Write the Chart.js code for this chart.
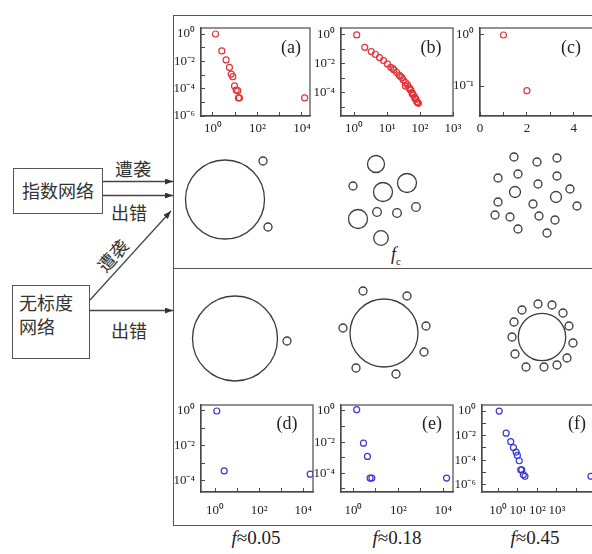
<!DOCTYPE html>
<html>
<head>
<meta charset="utf-8">
<script src="https://cdn.jsdelivr.net/npm/chart.js@4.4.1/dist/chart.umd.min.js"></script>
<style>
    html, body { margin: 0; padding: 0; background: #fff; }
    #fig { position: relative; width: 592px; height: 554px; overflow: hidden;
           font-family: "Liberation Serif", serif; color: #222; }
    #fig canvas, .abs { position: absolute; }
    .cjk { font-family: "Noto Sans CJK SC", sans-serif; font-size: 18px; line-height: 24px; color: #333; }
    .box { position: absolute; box-sizing: border-box; border: 1.4px solid #555; }
    .lbl { position: absolute; width: 50px; text-align: center; }
    .fval { position: absolute; width: 110px; text-align: center; font-size: 19px; line-height: 20px; }
</style>
</head>
<body>
<div id="fig">
    <!-- outer frame + divider -->
    <div class="box" style="left:173px;top:15px;width:440px;height:511px"></div>
    <div class="abs" style="left:173px;top:268px;width:440px;border-top:1.4px solid #555"></div>

    <!-- left flow diagram -->
    <div class="box cjk" style="left:13px;top:168px;width:90px;height:46px;text-align:center;line-height:43px">指数网络</div>
    <div class="box cjk" style="left:12px;top:285px;width:78px;height:74px;padding:4px 0 0 6px">无标度<br>网络</div>
    <div class="lbl cjk" style="left:108px;top:156px">遭袭</div>
    <div class="lbl cjk" style="left:104px;top:200px">出错</div>
    <div class="lbl cjk" style="left:104px;top:318px">出错</div>
    <div class="lbl cjk" style="left:87px;top:243px;transform:rotate(-48deg)">遭袭</div>
    <svg class="abs" style="left:0;top:0" width="180" height="554">
        <defs>
            <marker id="ah" markerWidth="8" markerHeight="6" refX="8" refY="3" orient="auto" markerUnits="userSpaceOnUse">
                <path d="M0,0 L8,3 L0,6 z" fill="#333"/>
            </marker>
        </defs>
        <g stroke="#444" stroke-width="1.3" marker-end="url(#ah)">
            <line x1="103" y1="181.5" x2="173" y2="181.5"/>
            <line x1="103" y1="195.5" x2="173" y2="195.5"/>
            <line x1="90" y1="300" x2="171" y2="211"/>
            <line x1="90" y1="310.5" x2="173" y2="310.5"/>
        </g>
    </svg>

    <!-- captions -->
    <div class="abs" style="left:391px;top:244px;font-size:18px"><i>f</i><sub style="font-size:11px">c</sub></div>
    <div class="fval" style="left:201px;top:528px"><i>f</i>≈0.05</div>
    <div class="fval" style="left:342px;top:528px"><i>f</i>≈0.18</div>
    <div class="fval" style="left:480px;top:528px"><i>f</i>≈0.45</div>
</div>

<script>
// ─── data: degree distributions P(k) ────────────────────────────────────────

const aX = [1.3, 2.5, 3.9, 5.5, 6.6, 7.8, 9.3, 11, 13, 14, 15.5, 13200];
const aY = [1, 0.0575, 0.0126, 0.0036, 0.00117, 7.6e-4, 1.58e-4, 7.9e-5, 7.1e-5, 2.1e-5, 2.1e-5, 2.1e-5];

const bX = [1.2, 2.1, 3.3, 4.4, 5.9, 7.8, 10.2, 12.9, 15, 16.2, 19.5, 23.4, 25, 28.2, 30.9, 36.3, 36,
            41.7, 47.9, 48, 52.5, 57.5, 58, 63.1, 69.2, 70, 75.9, 79.4, 85, 89.1];
const bY = [1, 0.141, 0.0708, 0.0468, 0.0275, 0.017, 0.01, 0.00589, 0.0048, 0.00389, 0.00269, 0.00174, 0.0014,
            0.00115, 7.9e-4, 5.1e-4, 3.0e-4, 3.6e-4, 2.3e-4, 1.9e-4, 1.6e-4, 1.05e-4, 8.5e-5, 7.2e-5, 5.0e-5,
            4.2e-5, 3.7e-5, 2.5e-5, 2.2e-5, 1.95e-5];

const cX = [1, 2];
const cY = [1, 0.081];

const dX = [1.2, 2.6, 21000];
const dY = [1, 3.7e-4, 2.4e-4];

const eX = [1.4, 2.8, 4.2, 5.5, 6.6, 14000];
const eY = [1.2, 0.0085, 0.0012, 4.9e-5, 4.9e-5, 4.9e-5];

const fX = [1.1, 2.5, 4.3, 5.9, 8.1, 9.4, 11.7, 14, 15.8, 19, 23, 55000];
const fY = [1, 0.0155, 0.0032, 0.00105, 4.5e-4, 2.4e-4, 8.8e-5, 1.6e-5, 1.6e-5, 6.5e-6, 4.7e-6, 4.7e-6];

// labelled tick values per axis
const aXTicks = [1, 1e2, 1e4],      aYTicks = [1, 1e-2, 1e-4, 1e-6];
const bXTicks = [1, 1e1, 1e2, 1e3], bYTicks = [1, 1e-2, 1e-4];
const cXTicks = [0, 2, 4],          cYTicks = [1, 1e-1];
const dXTicks = [1, 1e2, 1e4],      dYTicks = [1, 1e-2, 1e-4];
const eXTicks = [1, 1e2, 1e4],      eYTicks = [1, 1e-2, 1e-4];
const fXTicks = [1, 1e1, 1e2, 1e3], fYTicks = [1, 1e-2, 1e-4, 1e-6];

// ─── data: cluster sketches (schematic units) ───────────────────────────────

const topLeft  = [{x: 52, y: 64.5, r: 39.5}, {x: 90, y: 26, r: 4}, {x: 95, y: 92, r: 4}];
const topMid   = [{x: 203, y: 29, r: 8.5}, {x: 180, y: 51, r: 4}, {x: 210, y: 57, r: 9.5},
                  {x: 234, y: 48, r: 9.5}, {x: 185, y: 84, r: 9.5}, {x: 204, y: 77, r: 4.3},
                  {x: 224, y: 78, r: 4.3}, {x: 243, y: 72, r: 4.3}, {x: 208, y: 103, r: 7.3}];
const topRight = [{x: 341, y: 22, r: 4}, {x: 364, y: 27, r: 4}, {x: 384, y: 23, r: 4},
                  {x: 325, y: 43, r: 4}, {x: 345, y: 39, r: 4}, {x: 384, y: 41, r: 4},
                  {x: 365, y: 49, r: 4}, {x: 342, y: 57, r: 5.5}, {x: 383, y: 62, r: 5.5},
                  {x: 397, y: 54, r: 4}, {x: 325, y: 67, r: 4}, {x: 360, y: 69, r: 4},
                  {x: 404, y: 71, r: 4}, {x: 322, y: 80, r: 4}, {x: 337, y: 82, r: 4},
                  {x: 366, y: 81, r: 4}, {x: 382, y: 85, r: 4}, {x: 345, y: 94, r: 4},
                  {x: 374, y: 98, r: 4}];
const botLeft  = [{x: 62, y: 203.5, r: 42.5}, {x: 114, y: 206, r: 4}];
const botMid   = [{x: 211, y: 198, r: 34}, {x: 190, y: 156, r: 4}, {x: 234, y: 161, r: 4},
                  {x: 170, y: 193, r: 4}, {x: 253, y: 191, r: 4}, {x: 251, y: 217, r: 4},
                  {x: 183, y: 233, r: 4}, {x: 223, y: 239, r: 4}];
const botRight = [{x: 369, y: 202, r: 23.7}, {x: 349, y: 175, r: 4}, {x: 365, y: 169, r: 4},
                  {x: 379, y: 170, r: 4}, {x: 390, y: 178, r: 4}, {x: 396, y: 191, r: 4},
                  {x: 400, y: 208, r: 4}, {x: 394, y: 223, r: 4}, {x: 384, y: 230, r: 4},
                  {x: 371, y: 232, r: 4}, {x: 353, y: 232, r: 4}, {x: 342, y: 219, r: 4},
                  {x: 339, y: 202, r: 4}, {x: 341, y: 187, r: 4}];

// ─── helpers ────────────────────────────────────────────────────────────────

const RED = '#e3343a', BLUE = '#3a3ad2', AX = '#4a4a4a', INK = '#222';
const SUP = {'0': '⁰', '1': '¹', '2': '²', '3': '³', '4': '⁴', '5': '⁵', '6': '⁶', '-': '⁻'};
const fig = document.getElementById('fig');
const tickFont = {family: '"Liberation Serif", serif', size: 13};

const pow10 = v => '10' + String(Math.round(Math.log10(v))).split('').map(c => SUP[c]).join('');
const isDecade = v => Math.abs(Math.log10(v) - Math.round(Math.log10(v))) < 1e-6;
const sameVal = (type, a, b) => type === 'logarithmic'
    ? Math.abs(Math.log10(a) - Math.log10(b)) < 1e-6
    : Math.abs(a - b) < 1e-9;

// frame round the plot area + panel letter
const framePlugin = {
    id: 'frame',
    afterDraw(chart, args, opts) {
        const {ctx, chartArea: a} = chart;
        ctx.save();
        ctx.strokeStyle = AX;
        ctx.lineWidth = 1.2;
        ctx.strokeRect(a.left, a.top, a.right - a.left, a.bottom - a.top);
        ctx.font = '18px "Liberation Serif", serif';
        ctx.fillStyle = INK;
        ctx.textAlign = 'center';
        ctx.textBaseline = 'middle';
        ctx.fillText(opts.label, a.left + opts.dx, a.top + opts.dy);
        ctx.restore();
    }
};

function axis(type, min, max, labels, position, padding, fit) {
    return {
        type, min, max, position, bounds: 'data',
        border: {display: true, color: AX, width: 1.2},
        grid: {display: true, drawOnChartArea: false, tickLength: -4, color: AX, tickColor: AX},
        ticks: {
            autoSkip: false, maxRotation: 0, minRotation: 0, padding, color: INK, font: tickFont,
            stepSize: type === 'linear' ? 1 : undefined,
            callback: v => labels.some(l => sameVal(type, l, v))
                ? (type === 'logarithmic' ? pow10(v) : String(v)) : ''
        },
        afterBuildTicks: s => {
            s.ticks = s.ticks.filter(t => type === 'logarithmic'
                ? isDecade(t.value) : Math.abs(t.value - Math.round(t.value)) < 1e-9);
        },
        afterFit: fit
    };
}

function plot(o) {
    const PT = 8, PR = 8, YW = 36, XH = 34;
    const w = YW + (o.r - o.l) + PR, h = PT + (o.b - o.t) + XH;
    const cv = document.createElement('canvas');
    cv.width = w;
    cv.height = h;
    cv.style.cssText = `left:${o.l - YW}px;top:${o.t - PT}px;width:${w}px;height:${h}px`;
    fig.appendChild(cv);

    new Chart(cv, {
        type: 'scatter',
        data: {
            datasets: [{
                data: o.xs.map((x, i) => ({x, y: o.ys[i]})),
                pointStyle: 'circle', pointRadius: 3, borderWidth: 1.2,
                borderColor: o.color, backgroundColor: 'rgba(0,0,0,0)'
            }]
        },
        options: {
            responsive: false, animation: false, events: [],
            layout: {padding: {top: PT, right: PR, left: 0, bottom: 0}, autoPadding: false},
            plugins: {
                legend: {display: false}, tooltip: {enabled: false},
                frame: {label: o.label, dx: o.ldx, dy: o.ldy}
            },
            scales: {
                x: axis(o.xType || 'logarithmic', o.xMin, o.xMax, o.xTicks, 'bottom', o.xPad,
                    s => { s.height = XH; s.paddingLeft = 0; s.paddingRight = 0; }),
                y: axis('logarithmic', o.yMin, o.yMax, o.yTicks, 'left', 10,
                    s => { s.width = YW; s.paddingTop = 0; s.paddingBottom = 0; })
            }
        },
        plugins: [framePlugin]
    });
}

// ─── distribution panels ────────────────────────────────────────────────────

plot({label: '(a)', ldx: 90, ldy: 20, color: RED, xs: aX, ys: aY, l: 201, t: 28, r: 310, b: 116,
      xMin: 0.29, xMax: 23000, yMin: 1e-6, yMax: 2.75, xTicks: aXTicks, yTicks: aYTicks, xPad: 9});
plot({label: '(b)', ldx: 90, ldy: 20, color: RED, xs: bX, ys: bY, l: 341, t: 28, r: 453, b: 116,
      xMin: 0.4, xMax: 1000, yMin: 2.6e-6, yMax: 3.0, xTicks: bXTicks, yTicks: bYTicks, xPad: 9});
plot({label: '(c)', ldx: 91, ldy: 20, color: RED, xs: cX, ys: cY, l: 480, t: 28, r: 602, b: 116,
      xType: 'linear', xMin: 0, xMax: 5.2, yMin: 0.0259, yMax: 1.37, xTicks: cXTicks, yTicks: cYTicks, xPad: 9});
plot({label: '(d)', ldx: 86, ldy: 19, color: BLUE, xs: dX, ys: dY, l: 201, t: 405, r: 313, b: 492,
      xMin: 0.23, xMax: 28000, yMin: 2.3e-5, yMax: 2.2, xTicks: dXTicks, yTicks: dYTicks, xPad: 15});
plot({label: '(e)', ldx: 91, ldy: 19, color: BLUE, xs: eX, ys: eY, l: 341, t: 405, r: 453, b: 492,
      xMin: 0.28, xMax: 27000, yMin: 6.3e-6, yMax: 2.4, xTicks: eXTicks, yTicks: eYTicks, xPad: 15});
plot({label: '(f)', ldx: 95, ldy: 19, color: BLUE, xs: fX, ys: fY, l: 482, t: 405, r: 596, b: 492,
      xMin: 0.145, xMax: 1e5, yMin: 2.5e-7, yMax: 3.1, xTicks: fXTicks, yTicks: fYTicks, xPad: 15});

// ─── cluster sketches ───────────────────────────────────────────────────────

(function sketches() {
    const cv = document.createElement('canvas');
    cv.width = 419;
    cv.height = 260;
    cv.style.cssText = 'left:173px;top:135px;width:419px;height:260px';
    fig.appendChild(cv);

    new Chart(cv, {
        type: 'bubble',
        data: {
            datasets: [topLeft, topMid, topRight, botLeft, botMid, botRight].map(d => ({
                data: d, borderColor: '#3c3c3c', borderWidth: 1.3,
                backgroundColor: 'rgba(0,0,0,0)', clip: false
            }))
        },
        options: {
            responsive: false, animation: false, events: [],
            layout: {padding: 0, autoPadding: false},
            plugins: {legend: {display: false}, tooltip: {enabled: false}},
            scales: {
                x: {type: 'linear', display: false, min: 0, max: 419},
                y: {type: 'linear', display: false, min: 0, max: 260, reverse: true}
            }
        }
    });
})();
</script>
</body>
</html>
